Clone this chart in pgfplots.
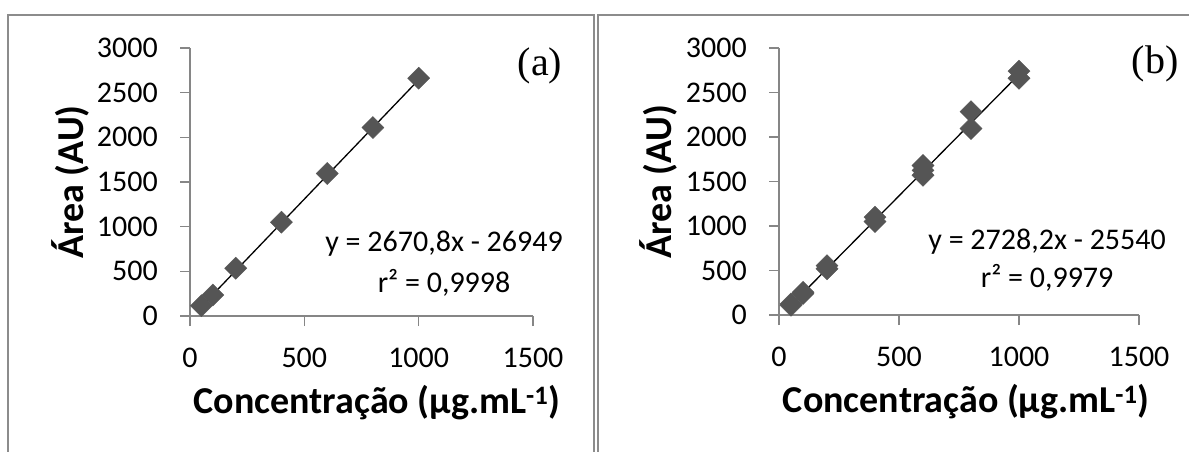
\documentclass[border=0pt]{standalone}
\usepackage{pgfplots}
\pgfplotsset{compat=1.18}
\usepackage{fontspec}
\setmainfont{Carlito}
\newfontfamily\timesfont{Liberation Serif}
\definecolor{axisgray}{RGB}{134,134,134}
\definecolor{framegray}{RGB}{140,140,140}
\definecolor{markgray}{RGB}{85,85,85}
\pgfplotsset{
  panel/.style={
    scale only axis, clip=false,
    xmin=0, xmax=1500, ymin=0, ymax=3000,
    xtick={0,500,1000,1500}, ytick={0,500,...,3000},
    axis x line*=bottom, axis y line*=left,
    axis line style={draw=axisgray, line width=1.5bp, -},
    tick style={draw=axisgray, line width=1.5bp},
    major tick length=10bp, tick align=outside,
    /pgf/number format/assume math mode=true,
    /pgf/number format/1000 sep={},
    tick label style={font=\fontsize{30bp}{36bp}\selectfont, inner sep=0pt},
    xticklabel style={yshift=-22bp},
    yticklabel style={xshift=-22bp},
    label style={font=\fontsize{38bp}{44bp}\selectfont\bfseries},
    xlabel={Concentração (µg.mL\textsuperscript{-1})},
  },
  marks/.style={only marks, mark=square*, mark size=7.8bp,
    mark options={rotate=45, fill=markgray, draw=markgray}},
  trend/.style={no marks, black, line width=1.3bp},
}
\begin{document}
\begin{tikzpicture}
\useasboundingbox (0,0) rectangle (1189bp,452bp);
% panel frames
\draw[framegray, line width=1.5bp] (8bp,-2bp) -- (8bp,437bp) -- (594bp,437bp) -- (594bp,-2bp);
\draw[framegray, line width=1.5bp] (598bp,-2bp) -- (598bp,437bp) -- (1191bp,437bp);

\begin{axis}[panel, at={(190bp,136bp)}, anchor=south west, width=343bp, height=268bp,
  xlabel style={at={(axis description cs:0.545,-0.325)}, anchor=center},
  ylabel style={at={(axis description cs:-0.35,0.5)}, anchor=center},
  ylabel={Área (AU)}]
\addplot[marks] coordinates {(50,115) (100,235) (200,535) (400,1050) (600,1595) (800,2110) (1000,2662)};
\addplot[trend] coordinates {(50,106.6) (1000,2643.9)};
\node[font=\fontsize{30bp}{36bp}\selectfont] at (axis cs:1111,810) {y = 2670,8x - 26949};
\node[font=\fontsize{30bp}{36bp}\selectfont] at (axis cs:1111,369) {r² = 0,9998};
\node[font=\fontsize{40bp}{44bp}\selectfont\timesfont] at (axis cs:1531,2805) {(a)};
\end{axis}

\begin{axis}[panel, at={(779bp,137bp)}, anchor=south west, width=360bp, height=267bp,
  xlabel style={at={(axis description cs:0.52,-0.325)}, anchor=center},
  ylabel style={at={(axis description cs:-0.334,0.5)}, anchor=center},
  ylabel={Área (AU)}]
\addplot[marks] coordinates {(50,110) (50,125) (100,240) (100,255) (200,520) (200,555)
  (400,1050) (400,1100) (600,1570) (600,1625) (600,1680) (800,2095) (800,2285) (1000,2660) (1000,2740)};
\addplot[trend] coordinates {(50,110.9) (1000,2702.7)};
\node[font=\fontsize{30bp}{36bp}\selectfont] at (axis cs:1117,820) {y = 2728,2x - 25540};
\node[font=\fontsize{30bp}{36bp}\selectfont] at (axis cs:1117,420) {r² = 0,9979};
\node[font=\fontsize{40bp}{44bp}\selectfont\timesfont] at (axis cs:1567,2825) {(b)};
\end{axis}
\end{tikzpicture}
\end{document}
